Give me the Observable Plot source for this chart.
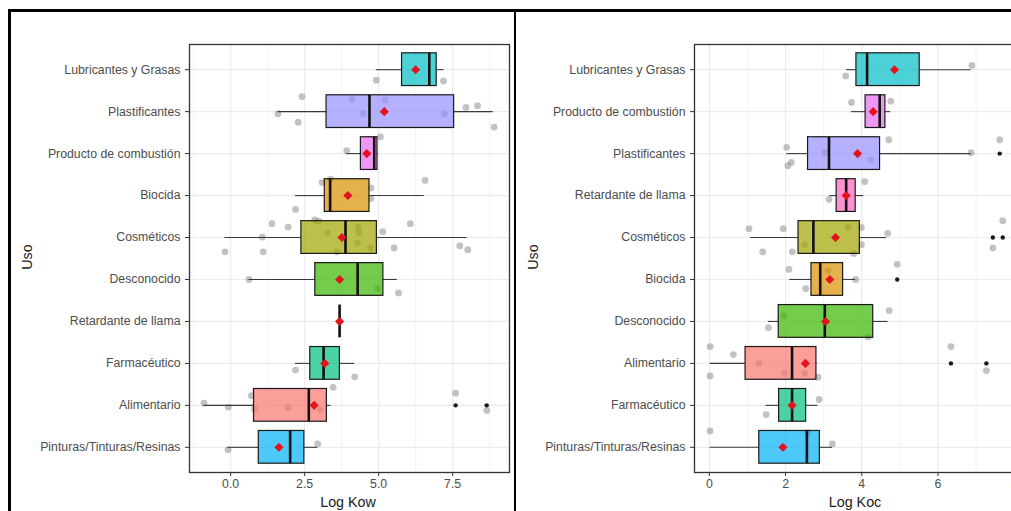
<!DOCTYPE html>
<html>
<head>
<meta charset="utf-8">
<script src="https://cdn.jsdelivr.net/npm/d3@7"></script>
<script src="https://cdn.jsdelivr.net/npm/@observablehq/plot@0.6"></script>
<style>
  html, body { margin: 0; padding: 0; background: #fff; }
  #wrap { position: relative; width: 1011px; height: 511px; overflow: hidden; background: #fff;
          font-family: "Liberation Sans", Arial, sans-serif; }
  .panel { position: absolute; top: 0; height: 511px; }
  .panel svg { max-width: none !important; display: block; }
  .bar { position: absolute; background: #000; z-index: 5; }
  .title { position: absolute; font-size: 14.3px; color: #1a1a1a; white-space: nowrap; z-index: 4; }
</style>
</head>
<body>
<div id="wrap">
  <div id="left" class="panel" style="left:0px; width:515px"></div>
  <div id="right" class="panel" style="left:517px; width:506px"></div>
  <div class="bar" style="left:8px; top:9px; width:1003px; height:3px"></div>
  <div class="bar" style="left:8px; top:9px; width:3px; height:502px"></div>
  <div class="bar" style="left:514px; top:9px; width:2px; height:502px"></div>
  <div class="title" style="left:27px; top:257px; transform:translate(-50%,-50%) rotate(-90deg)">Uso</div>
  <div class="title" style="left:533px; top:257px; transform:translate(-50%,-50%) rotate(-90deg)">Uso</div>
  <div class="title" style="left:348px; top:502px; transform:translate(-50%,-50%)">Log Kow</div>
  <div class="title" style="left:855px; top:502px; transform:translate(-50%,-50%)">Log Koc</div>
</div>
<script>
// ---------- shared colour mapping (ggplot hue palette, alphabetical) ----------
const colorDomain = ["Alimentario","Biocida","Cosméticos","Desconocido","Farmacéutico",
  "Lubricantes y Grasas","Pinturas/Tinturas/Resinas","Plastificantes","Producto de combustión","Retardante de llama"];
const colorRange = ["#F8766D","#D89000","#A3A500","#39B600","#00BF7D",
  "#00BFC4","#00B0F6","#9590FF","#E76BF3","#FF62BC"];

// ---------- Log Kow panel ----------
const kowCats = ["Lubricantes y Grasas","Plastificantes","Producto de combustión","Biocida","Cosméticos",
  "Desconocido","Retardante de llama","Farmacéutico","Alimentario","Pinturas/Tinturas/Resinas"];
const kowLow    = [4.92, 1.60, 3.92, 2.19, -0.19, 0.62, 3.68, 2.19, -0.90, -0.09];
const kowQ1     = [5.79, 3.24, 4.40, 3.18, 2.39, 2.86, 3.68, 2.69, 0.79, 0.95];
const kowMedian = [6.71, 4.69, 4.85, 3.36, 3.88, 4.29, 3.68, 3.14, 2.64, 2.01];
const kowQ3     = [6.96, 7.55, 4.96, 4.69, 4.94, 5.16, 3.68, 3.69, 3.25, 2.49];
const kowHigh   = [7.21, 8.87, 4.99, 6.54, 7.99, 5.63, 3.68, 4.19, 3.39, 2.94];
const kowMean   = [6.25, 5.19, 4.60, 3.96, 3.76, 3.68, 3.68, 3.18, 2.82, 1.63];
const kowOutliers = [["Alimentario", 7.60], ["Alimentario", 8.65]];
// [uso, value, vertical jitter (rows)]
const kowPoints = [
  ["Lubricantes y Grasas", 4.92, 0.25], ["Lubricantes y Grasas", 7.19, 0.27],
  ["Plastificantes", 1.60, 0.05], ["Plastificantes", 2.41, -0.36], ["Plastificantes", 2.28, 0.25],
  ["Plastificantes", 4.10, -0.29], ["Plastificantes", 4.47, 0.05], ["Plastificantes", 5.22, -0.28],
  ["Plastificantes", 7.22, 0.05], ["Plastificantes", 7.95, -0.10], ["Plastificantes", 8.34, -0.14],
  ["Plastificantes", 8.90, 0.37],
  ["Producto de combustión", 3.92, -0.07], ["Producto de combustión", 5.06, -0.40],
  ["Biocida", 3.09, -0.31], ["Biocida", 3.38, -0.39], ["Biocida", 6.57, -0.36],
  ["Biocida", 4.74, -0.18], ["Biocida", 4.74, 0.07], ["Biocida", 2.19, 0.33],
  ["Cosméticos", -0.19, 0.34], ["Cosméticos", 1.07, -0.01], ["Cosméticos", 1.10, 0.34],
  ["Cosméticos", 1.40, -0.33], ["Cosméticos", 1.94, -0.25], ["Cosméticos", 2.84, -0.42],
  ["Cosméticos", 2.97, -0.39], ["Cosméticos", 3.28, -0.11], ["Cosméticos", 3.59, 0.34],
  ["Cosméticos", 4.30, -0.25], ["Cosméticos", 4.33, -0.12], ["Cosméticos", 4.29, 0.13],
  ["Cosméticos", 4.72, 0.25], ["Cosméticos", 5.14, -0.14], ["Cosméticos", 5.52, 0.25],
  ["Cosméticos", 6.07, -0.33], ["Cosméticos", 7.74, 0.20], ["Cosméticos", 8.01, 0.29],
  ["Desconocido", 0.62, 0.00], ["Desconocido", 4.97, 0.22], ["Desconocido", 5.67, 0.32],
  ["Retardante de llama", 3.68, 0.00],
  ["Farmacéutico", 2.19, 0.16], ["Farmacéutico", 4.19, 0.32],
  ["Alimentario", -0.90, -0.05], ["Alimentario", -0.08, 0.04], ["Alimentario", 0.70, -0.23],
  ["Alimentario", 0.81, 0.09], ["Alimentario", 1.94, 0.06], ["Alimentario", 3.03, 0.10],
  ["Alimentario", 3.46, -0.43], ["Alimentario", 7.60, -0.29], ["Alimentario", 8.65, 0.12],
  ["Pinturas/Tinturas/Resinas", -0.09, 0.06], ["Pinturas/Tinturas/Resinas", 2.94, -0.08]
];
const kowMajorTicks = [0, 2.5, 5, 7.5];
const kowMinorTicks = [-1.25, 1.25, 3.75, 6.25, 8.75];
const kowTickLabels = ["0.0", "2.5", "5.0", "7.5"];

// ---------- Log Koc panel ----------
const kocCats = ["Lubricantes y Grasas","Producto de combustión","Plastificantes","Retardante de llama","Cosméticos",
  "Biocida","Desconocido","Alimentario","Farmacéutico","Pinturas/Tinturas/Resinas"];
const kocLow    = [3.60, 3.73, 2.03, 3.16, 1.08, 2.11, 1.55, 0.02, 1.49, 0.02];
const kocQ1     = [3.86, 4.10, 2.59, 3.34, 2.34, 2.68, 1.82, 0.95, 1.83, 1.31];
const kocMedian = [4.14, 4.47, 3.14, 3.59, 2.73, 2.91, 3.03, 2.17, 2.17, 2.56];
const kocQ3     = [5.52, 4.62, 4.48, 3.84, 3.95, 3.51, 4.30, 2.81, 2.54, 2.90];
const kocHigh   = [6.87, 4.76, 6.87, 4.05, 4.65, 3.84, 4.69, 2.83, 2.85, 3.23];
const kocMean   = [4.86, 4.30, 3.89, 3.59, 3.31, 3.16, 3.05, 2.52, 2.17, 1.93];
const kocOutliers = [["Plastificantes", 7.62], ["Cosméticos", 7.44], ["Cosméticos", 7.70],
  ["Biocida", 4.93], ["Alimentario", 6.34], ["Alimentario", 7.27]];
const kocPoints = [
  ["Lubricantes y Grasas", 3.58, 0.15], ["Lubricantes y Grasas", 6.89, -0.10],
  ["Producto de combustión", 3.73, -0.22], ["Producto de combustión", 4.76, -0.25],
  ["Plastificantes", 2.03, -0.15], ["Plastificantes", 2.06, 0.29], ["Plastificantes", 2.15, 0.21],
  ["Plastificantes", 3.03, -0.02], ["Plastificantes", 4.24, 0.15], ["Plastificantes", 4.71, -0.33],
  ["Plastificantes", 6.87, -0.02], ["Plastificantes", 7.62, -0.33],
  ["Retardante de llama", 3.14, 0.09], ["Retardante de llama", 4.08, -0.33],
  ["Cosméticos", 1.04, -0.21], ["Cosméticos", 1.40, 0.34], ["Cosméticos", 1.94, -0.21],
  ["Cosméticos", 2.18, 0.34], ["Cosméticos", 2.50, 0.17], ["Cosméticos", 3.64, -0.25],
  ["Cosméticos", 3.99, -0.24], ["Cosméticos", 3.99, 0.17], ["Cosméticos", 3.79, 0.38],
  ["Cosméticos", 4.68, -0.10], ["Cosméticos", 7.44, 0.25], ["Cosméticos", 7.70, -0.40],
  ["Biocida", 2.09, -0.24], ["Biocida", 2.53, 0.22], ["Biocida", 3.84, 0.00],
  ["Biocida", 4.93, -0.36], ["Biocida", 3.12, -0.21],
  ["Desconocido", 1.55, 0.15], ["Desconocido", 4.72, -0.26], ["Desconocido", 4.17, 0.37],
  ["Desconocido", 1.96, -0.14],
  ["Alimentario", 0.02, -0.40], ["Alimentario", 0.02, 0.30], ["Alimentario", 0.63, -0.21],
  ["Alimentario", 1.30, 0.00], ["Alimentario", 1.97, 0.24], ["Alimentario", 2.50, 0.24],
  ["Alimentario", 2.85, 0.33], ["Alimentario", 6.34, -0.40], ["Alimentario", 7.27, 0.17],
  ["Farmacéutico", 1.49, 0.22], ["Farmacéutico", 2.88, -0.14],
  ["Pinturas/Tinturas/Resinas", 0.02, -0.39], ["Pinturas/Tinturas/Resinas", 3.23, -0.08],
  ["Pinturas/Tinturas/Resinas", 2.58, -0.35]
];
const kocMajorTicks = [0, 2, 4, 6, 8];
const kocMinorTicks = [1, 3, 5, 7];
const kocTickLabels = ["0", "2", "4", "6", "8"];

function panel(o) {
  const n = o.cats.length;
  const rows = o.cats.map((c, i) => ({
    use: c, i, low: o.low[i], q1: o.q1[i], med: o.med[i], q3: o.q3[i], high: o.high[i], mean: o.mean[i]
  }));
  const idx = c => o.cats.indexOf(c);
  const half = 0.39;
  return Plot.plot({
    width: o.width, height: 511,
    marginTop: 44, marginBottom: 39, marginLeft: o.marginLeft, marginRight: o.marginRight,
    x: {domain: o.xDomain},
    y: {domain: [-0.6, n - 0.4], reverse: true},
    color: {domain: colorDomain, range: colorRange},
    style: {fontFamily: "'Liberation Sans', Arial, sans-serif", background: "#fff", color: "#4d4d4d", overflow: "visible"},
    marks: [
      Plot.ruleX(o.minor, {stroke: "#f3f3f3", strokeWidth: 0.9}),
      Plot.ruleX(o.major, {stroke: "#ebebeb", strokeWidth: 1.2}),
      Plot.ruleY(d3.range(n), {stroke: "#ebebeb", strokeWidth: 1.2}),
      Plot.dot(o.points, {x: d => d[1], y: d => idx(d[0]) + d[2], r: 3.4, fill: "#858585", fillOpacity: 0.5, stroke: null}),
      Plot.ruleY(rows, {y: "i", x1: "low", x2: "q1", stroke: "#3a3a3a", strokeWidth: 1.1}),
      Plot.ruleY(rows, {y: "i", x1: "q3", x2: "high", stroke: "#3a3a3a", strokeWidth: 1.1}),
      Plot.rect(rows, {x1: "q1", x2: "q3", y1: d => d.i - half, y2: d => d.i + half,
        fill: "use", fillOpacity: 0.7, stroke: "#1a1a1a", strokeWidth: 1.2}),
      Plot.ruleX(rows, {x: "med", y1: d => d.i - half, y2: d => d.i + half, stroke: "#111", strokeWidth: 2.6}),
      Plot.dot(o.outliers, {x: d => d[1], y: d => idx(d[0]), r: 2.2, fill: "#1a1a1a", stroke: null}),
      Plot.dot(rows, {x: "mean", y: "i", symbol: "diamond2", r: 4.1, fill: "#e3121c", stroke: null}),
      Plot.axisY({ticks: d3.range(n), tickFormat: i => o.cats[i], tickSize: 4, tickPadding: 5,
        fontSize: 12.3, label: null, stroke: "#333"}),
      Plot.axisX({ticks: o.major, tickFormat: (d, i) => o.labels[o.major.indexOf(d)], tickSize: 4, tickPadding: 3,
        fontSize: 12.3, label: null, stroke: "#333"}),
      Plot.frame({stroke: "#333", strokeWidth: 1.3})
    ]
  });
}

document.getElementById("left").appendChild(panel({
  cats: kowCats, low: kowLow, q1: kowQ1, med: kowMedian, q3: kowQ3, high: kowHigh, mean: kowMean,
  outliers: kowOutliers, points: kowPoints, major: kowMajorTicks, minor: kowMinorTicks, labels: kowTickLabels,
  xDomain: [-1.39, 9.42], width: 515, marginLeft: 189, marginRight: 6
}));
document.getElementById("right").appendChild(panel({
  cats: kocCats, low: kocLow, q1: kocQ1, med: kocMedian, q3: kocQ3, high: kocHigh, mean: kocMean,
  outliers: kocOutliers, points: kocPoints, major: kocMajorTicks, minor: kocMinorTicks, labels: kocTickLabels,
  xDomain: [-0.39, 8.1], width: 506, marginLeft: 177, marginRight: 5.5
}));
</script>
</body>
</html>
